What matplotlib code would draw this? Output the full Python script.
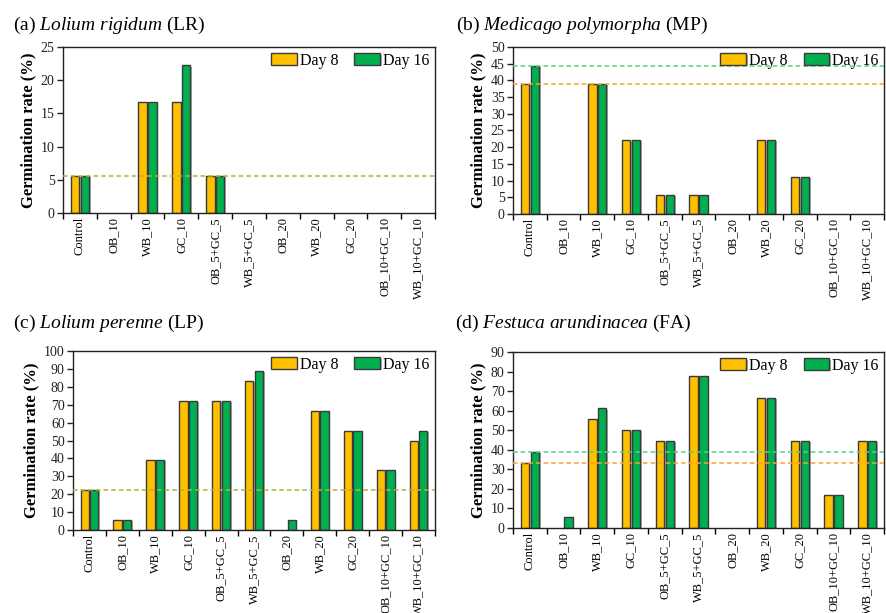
import matplotlib
matplotlib.use("Agg")
import matplotlib.pyplot as plt
import matplotlib.patheffects as pe
import numpy as np

plt.rcParams["font.family"] = ["Liberation Serif", "DejaVu Serif"]
plt.rcParams["mathtext.fontset"] = "custom"
plt.rcParams["mathtext.rm"] = "Liberation Serif"
plt.rcParams["mathtext.it"] = "Liberation Serif:italic"

# Data
treatments = ["Control", "OB_10", "WB_10", "GC_10", "OB_5+GC_5", "WB_5+GC_5",
              "OB_20", "WB_20", "GC_20", "OB_10+GC_10", "WB_10+GC_10"]

lr_day8 = [5.56, 0, 16.67, 16.67, 5.56, 0, 0, 0, 0, 0, 0]
lr_day16 = [5.56, 0, 16.67, 22.22, 5.56, 0, 0, 0, 0, 0, 0]

mp_day8 = [38.89, 0, 38.89, 22.22, 5.56, 5.56, 0, 22.22, 11.11, 0, 0]
mp_day16 = [44.44, 0, 38.89, 22.22, 5.56, 5.56, 0, 22.22, 11.11, 0, 0]

lp_day8 = [22.22, 5.56, 38.89, 72.22, 72.22, 83.33, 0, 66.67, 55.56, 33.33, 50.0]
lp_day16 = [22.22, 5.56, 38.89, 72.22, 72.22, 88.89, 5.56, 66.67, 55.56, 33.33, 55.56]

fa_day8 = [33.33, 0, 55.56, 50.0, 44.44, 77.78, 0, 66.67, 44.44, 16.67, 44.44]
fa_day16 = [38.89, 5.56, 61.11, 50.0, 44.44, 77.78, 0, 66.67, 44.44, 16.67, 44.44]

titles = [("(a)", "Lolium\\ rigidum", "(LR)"),
          ("(b)", "Medicago\\ polymorpha", "(MP)"),
          ("(c)", "Lolium\\ perenne", "(LP)"),
          ("(d)", "Festuca\\ arundinacea", "(FA)")]
ymaxes = [25, 50, 100, 90]
ysteps = [5, 5, 10, 10]

ORANGE = "#FFC000"
GREEN = "#00B050"
EDGE = "#3a3a3a"

fig = plt.figure(figsize=(8.86, 6.13), dpi=100)

# axes rectangles [left, bottom, width, height]
rects = [
    [0.0711, 0.6525, 0.4199, 0.2708],
    [0.5790, 0.6510, 0.4190, 0.2723],
    [0.0824, 0.1354, 0.4086, 0.2920],
    [0.5790, 0.1386, 0.4190, 0.2872],
]
title_pos = [(13, 25), (456, 25), (13, 323), (455, 323)]

panels = [(lr_day8, lr_day16), (mp_day8, mp_day16),
          (lp_day8, lp_day16), (fa_day8, fa_day16)]

x = np.arange(len(treatments))
w = 0.25
shadow = [pe.SimplePatchShadow(offset=(1.2, -0.8), shadow_rgbFace="#9a9a9a", alpha=0.8),
          pe.Normal()]

for i, (d8, d16) in enumerate(panels):
    ax = fig.add_axes(rects[i])
    b1 = ax.bar(x - w / 2 - 0.02, d8, w, color=ORANGE, edgecolor=EDGE, linewidth=1.0,
                label="Day 8", zorder=2)
    b2 = ax.bar(x + w / 2 + 0.02, d16, w, color=GREEN, edgecolor=EDGE, linewidth=1.0,
                label="Day 16", zorder=2)
    for p in list(b1) + list(b2):
        if p.get_height() == 0:
            p.set_visible(False)
        else:
            p.set_path_effects(shadow)

    # control reference lines
    if d8[0] == d16[0]:
        ax.axhline(d8[0], color="#b5b040", ls=(0, (3, 2)), lw=1.1, zorder=3)
    else:
        ax.axhline(d8[0], color="#FFA030", ls=(0, (3, 2)), lw=1.1, zorder=3)
        ax.axhline(d16[0], color="#55D080", ls=(0, (3, 2)), lw=1.1, zorder=3)

    ax.set_xlim(-0.5, len(treatments) - 0.5)
    ax.set_ylim(0, ymaxes[i])
    ax.set_yticks(np.arange(0, ymaxes[i] + 1, ysteps[i]))
    ax.set_xticks(x)
    ax.set_xticklabels(treatments, rotation=90, fontsize=9)
    ax.tick_params(axis="x", length=0, pad=3)
    ax.set_xticks(np.arange(-0.5, len(treatments), 1), minor=True)
    ax.tick_params(axis="x", which="minor", length=4, direction="out", width=1)
    ax.tick_params(axis="y", labelsize=10, length=4, width=1, direction="out", pad=2,
                   colors="#222222")
    for s in ax.spines.values():
        s.set_color("#222222")
        s.set_linewidth(1)
    ax.set_ylabel("Germination rate (%)", fontsize=12, fontweight="bold", labelpad=3)

    ax.legend(loc="upper right", ncol=2, frameon=False, fontsize=11.5,
              handlelength=1.6, handleheight=0.7, handletextpad=0.2,
              columnspacing=1.0, borderaxespad=0.15, borderpad=0.2,
              bbox_to_anchor=(1.0, 1.0))

    a, sp, code = titles[i]
    tx, ty = title_pos[i]
    fig.text(tx / 886, 1 - ty / 613, f"{a} $\\mathit{{{sp}}}$ {code}",
             fontsize=14, va="center", ha="left")

fig.savefig("out.png", dpi=100)
